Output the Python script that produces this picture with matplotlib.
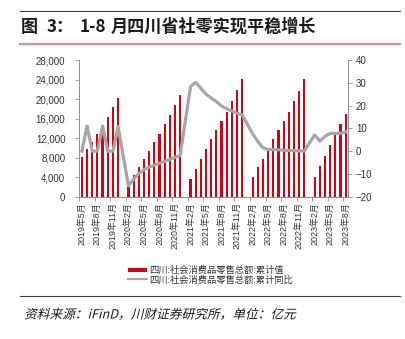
import matplotlib
matplotlib.use("Agg")
import matplotlib.pyplot as plt
from matplotlib.ticker import FuncFormatter, FixedLocator
from matplotlib.textpath import TextPath
from matplotlib.patches import PathPatch, Rectangle
from matplotlib.font_manager import FontProperties
from matplotlib.transforms import Affine2D, IdentityTransform
import numpy as np

plt.rcParams['font.family'] = ['Liberation Sans', 'Noto Sans CJK SC']
plt.rcParams['axes.unicode_minus'] = True

# Months from 2019-05 to 2023-08
years = [2019] * 8 + [2020] * 12 + [2021] * 12 + [2022] * 12 + [2023] * 8
months = list(range(5, 13)) + list(range(1, 13)) * 3 + list(range(1, 9))
labels = [f"{y}年{m}月" for y, m in zip(years, months)]

series_names = ['四川:社会消费品零售总额:累计值', '四川:社会消费品零售总额:累计同比']

# 四川:社会消费品零售总额:累计值 (亿元), None where not published (January)
retail_cum = [
    8050, 9700, 11200, 12900, 14500, 16400, 18300, 20150,
    None, 2100, 4350, 6000, 7700, 9450, 11120, 12900, 14850, 16700, 18750, 20820,
    None, 3620, 5670, 7720, 9700, 11750, 13660, 15500, 17350, 19600, 21900, 24130,
    None, 3970, 6020, 7790, 9420, 11820, 13660, 15570, 17350, 19600, 21710, 24100,
    None, 4100, 6320, 8400, 10560, 12640, 14830, 16880,
]

# 四川:社会消费品零售总额:累计同比 (%)
retail_yoy = [
    0.0, 11.0, 0.0, 0.0, 11.0, 0.0, 0.0, 10.8,
    None, -15.2, -12.3, -9.9, -8.2, -7.0, -6.2, -5.3, -4.5, -3.6, -2.7, -1.9,
    None, 28.3, 30.2, 27.6, 25.0, 23.3, 21.7, 19.8, 18.6, 17.6, 16.6, 15.9,
    None, 7.6, 4.3, 1.5, 0.7, 0.7, 0.6, 0.4, 0.3, 0.2, 0.1, 0.1,
    None, 7.1, 4.4, 6.5, 7.8, 7.8, 7.8, 8.5,
]

left_ticks = [0, 4000, 8000, 12000, 16000, 20000, 24000, 28000]
right_ticks = [-20, -10, 0, 10, 20, 30, 40]

BAR_RED = '#D7000F'
LINE_GREY = '#A6A6A6'
AXIS_GREY = '#8C8C8C'
TEXT = '#333333'

W, H = 406, 339
fig = plt.figure(figsize=(W / 100, H / 100), dpi=100)

def fx(px):
    return px / W

def fy(py):
    return 1 - py / H

ax = fig.add_axes([fx(79.3), fy(196.7), fx(348.3) - fx(79.3), fy(60) - fy(196.7)])
ax2 = ax.twinx()

n = len(labels)
bar_x = [i for i, v in enumerate(retail_cum) if v is not None]
bar_v = [v for v in retail_cum if v is not None]
ax.bar(bar_x, bar_v, width=0.42, color=BAR_RED, zorder=2)

line_x = [i for i, v in enumerate(retail_yoy) if v is not None]
line_v = [v for v in retail_yoy if v is not None]
ax2.plot(line_x, line_v, color=LINE_GREY, lw=2.3, solid_joinstyle='round',
         zorder=3)

ax.set_xlim(-0.5, n - 0.5)
ax.set_ylim(0, 28000)
ax2.set_ylim(-20, 40)
ax.set_yticks(left_ticks)
ax2.set_yticks(right_ticks)
ax.yaxis.set_major_formatter(FuncFormatter(lambda v, p: f"{int(v):,}"))

# Category labels every 3 months, tick marks on category boundaries
lab_idx = list(range(0, n, 3))
ax.set_xticks(lab_idx)
ax.set_xticklabels([labels[i] for i in lab_idx], rotation=90, fontsize=6.4,
                   color=TEXT)
ax.xaxis.set_minor_locator(FixedLocator([i - 0.5 for i in lab_idx]))
ax.tick_params(axis='x', which='major', length=0, pad=4)
ax.tick_params(axis='x', which='minor', length=3, width=0.6, color=AXIS_GREY,
               direction='out')

ax.tick_params(axis='y', labelsize=7, length=3, width=0.6, color=AXIS_GREY,
               labelcolor=TEXT, pad=7)
ax2.tick_params(axis='y', labelsize=7, length=3, width=0.6, color=AXIS_GREY,
                labelcolor=TEXT, pad=2.5)

for a in (ax, ax2):
    a.spines['top'].set_visible(False)
    for s in ('left', 'right', 'bottom'):
        a.spines[s].set_color(AXIS_GREY)
        a.spines[s].set_linewidth(0.7)
    a.patch.set_visible(False)
ax2.spines['left'].set_visible(False)
ax2.spines['bottom'].set_visible(False)
ax.spines['right'].set_visible(False)

# Compact two-row legend below the category labels
key_x0, key_x1, text_x = 127.7, 146.7, 149.5
row_y = [269.7, 279.3]
fig.add_artist(Rectangle((fx(key_x0), fy(row_y[0] + 2.2)), fx(key_x1) - fx(key_x0),
                         4.4 / H, transform=fig.transFigure, facecolor=BAR_RED,
                         lw=0))
fig.add_artist(plt.Line2D([fx(key_x0), fx(key_x1)], [fy(row_y[1]), fy(row_y[1])],
                          color=LINE_GREY, lw=1.6))
for name, yy in zip(series_names, row_y):
    fig.text(fx(text_x), fy(yy + 3.3), name, fontsize=6.7, color=TEXT,
             family=['Noto Sans CJK SC'], va='baseline', ha='left')

# Title block with rules
fig.add_artist(plt.Line2D([fx(20), fx(400)], [fy(11), fy(11)], color='#3A3A3A',
                          lw=0.8))
fig.add_artist(plt.Line2D([fx(20), fx(400)], [fy(43.5), fy(43.5)],
                          color='#E58C8C', lw=1.6))
title_kw = dict(fontsize=12.3, fontweight='bold', color='#1A1A1A',
                family=['Noto Sans CJK SC'], va='center', ha='left')
fig.text(fx(21), fy(27), '图', **title_kw)
fig.text(fx(47), fy(27), '3：', **title_kw)
fig.text(fx(79.5), fy(27), '1-8', **title_kw)
fig.text(fx(110.5), fy(27), '月四川省社零实现平稳增长', **title_kw)

# Source note, slanted
src = '资料来源：iFinD，川财证券研究所，单位：亿元'
tp = TextPath((0, 0), src, size=12.7,
              prop=FontProperties(family=['Noto Sans CJK SC', 'Liberation Sans']))
tr = Affine2D().skew_deg(14, 0).translate(24, H - 318.5) + IdentityTransform()
fig.add_artist(PathPatch(tp, transform=tr, facecolor='#1A1A1A', lw=0))

fig.add_artist(plt.Line2D([fx(20), fx(400)], [fy(296), fy(296)],
                          color='#3A3A3A', lw=0.8))

fig.savefig('out.png', dpi=100)
